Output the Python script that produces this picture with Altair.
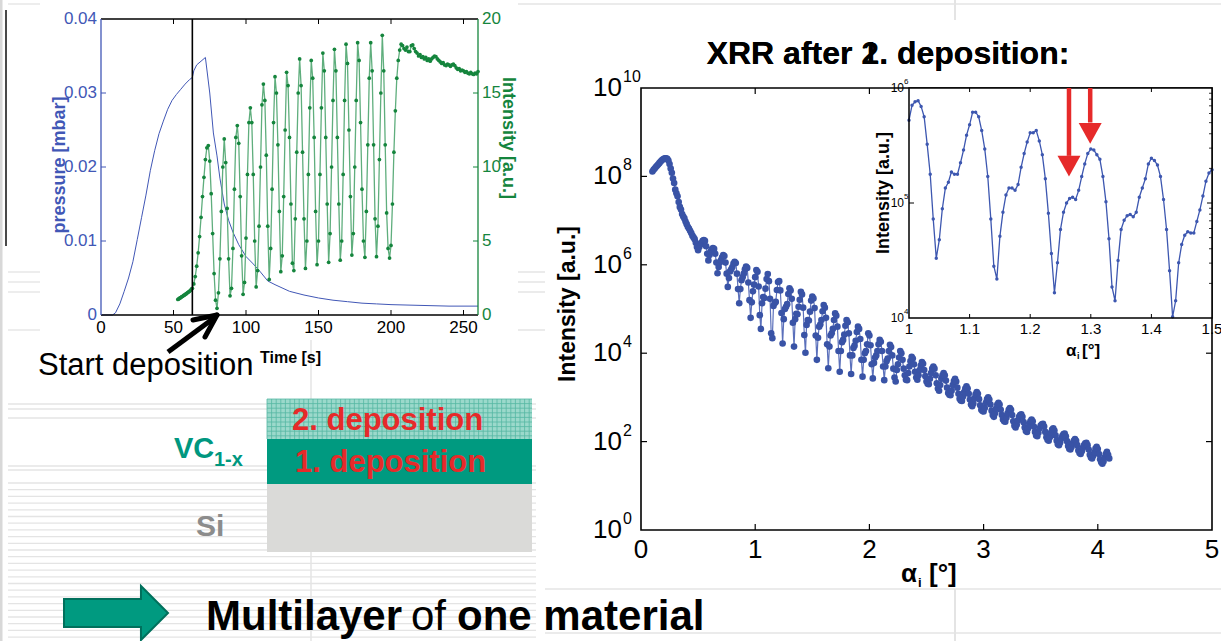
import altair as alt
import pandas as pd

FONT = "Liberation Sans"

# ---------------- data ----------------
# top-left: chamber pressure [mbar] vs time [s]
press_t = [0, 8, 10, 13, 16, 19, 22, 25, 28, 31, 34, 37, 40, 43, 46, 49, 52, 55, 58, 61, 63, 64, 66, 69, 72,
           75, 77.5, 80, 82, 85, 88, 91, 95, 100, 105, 110, 115, 120, 130, 140, 150, 160, 170, 180, 190, 200,
           220, 240, 260]
press_v = [0, 0, 0.0003, 0.0015, 0.0032, 0.0050, 0.0072, 0.0102, 0.0132, 0.0162, 0.0195, 0.0222, 0.0245,
           0.0262, 0.0278, 0.0290, 0.0298, 0.0305, 0.0312, 0.0318, 0.0321, 0.0330, 0.0338, 0.0343, 0.0348,
           0.0300, 0.0246, 0.0215, 0.0185, 0.0150, 0.0128, 0.0112, 0.0095, 0.0079, 0.0069, 0.0058, 0.0046,
           0.0041, 0.0032, 0.0027, 0.0023, 0.0020, 0.0018, 0.0016, 0.0015, 0.0014, 0.0013, 0.0012, 0.0012]

# top-left: in-situ intensity [a.u.]; before deposition every 0.5 s from 53 s, then every 1 s from 63 s
green_pre = [1.05, 1.08, 1.12, 1.15, 1.18, 1.22, 1.25, 1.28, 1.32, 1.35,
             1.38, 1.42, 1.45, 1.50, 1.53, 1.57, 1.60, 1.65, 1.70, 1.76]
green_main = [1.8, 2.1, 2.6, 3.3, 4.2, 5.3, 6.6, 8.0, 9.3, 10.5,
              11.3, 11.45, 10.4, 8.2, 5.5, 2.8, 1.0, 0.45, 1.5, 3.8,
              7.0, 10.0, 11.9, 10.3, 7.2, 3.8, 1.3, 1.8, 4.5, 8.5,
              12.0, 12.8, 11.6, 8.0, 4.0, 1.4, 2.2, 5.2, 9.5, 13.0,
              14.0, 13.0, 9.5, 5.0, 1.9, 3.0, 6.0, 10.0, 14.2, 15.6,
              14.5, 10.8, 6.0, 2.4, 4.5, 8.5, 13.0, 16.1, 15.0, 11.5,
              7.0, 2.93, 4.0, 8.0, 12.5, 16.4, 15.5, 12.0, 7.5, 3.5,
              3.0, 6.5, 11.0, 15.0, 17.3, 15.5, 11.0, 6.5, 3.15, 5.0,
              9.5, 14.0, 17.2, 16.0, 12.0, 7.0, 3.4, 5.0, 9.5, 14.0,
              17.7, 16.5, 12.0, 7.5, 3.56, 5.5, 10.0, 14.5, 17.95, 16.5,
              12.0, 7.5, 3.7, 5.0, 9.5, 14.5, 18.3, 17.0, 12.5, 8.0,
              4.05, 5.5, 10.0, 14.5, 18.4, 17.2, 13.0, 8.5, 5.0, 3.9,
              7.0, 11.5, 16.0, 18.4, 16.5, 11.5, 6.5, 3.94, 6.0, 10.5,
              15.0, 18.9, 16.5, 11.5, 6.9, 4.5, 3.85, 4.7, 7.5, 11.0,
              13.8, 16.0, 17.2, 17.9, 18.3, 18.2, 18.0, 17.9, 18.1, 17.8,
              17.8, 18.2, 18.25, 18.0, 17.8, 17.7, 17.5, 17.6, 17.4, 17.45,
              17.3, 17.4, 17.2, 17.3, 17.15, 17.3, 17.4, 17.5, 17.45, 17.3,
              17.2, 17.1, 17.0, 17.05, 16.9, 16.85, 16.95, 16.9, 16.8, 16.9,
              16.95, 16.85, 16.7, 16.6, 16.65, 16.5, 16.55, 16.5, 16.4, 16.45,
              16.35, 16.3, 16.4, 16.3, 16.25, 16.35, 16.3, 16.45]
deposition_start = [63]

# right: XRR, log10(intensity) for alpha_i = 0.10 .. 4.10 every 0.01 deg
xrr_log = [8.11, 8.15, 8.18, 8.21, 8.24, 8.27, 8.30, 8.33, 8.36, 8.38,
           8.40, 8.41, 8.41, 8.40, 8.36, 8.28, 8.18, 8.08, 7.95, 7.85,
           7.70, 7.62, 7.55, 7.42, 7.31, 7.25, 7.15, 7.09, 7.05, 6.98,
           6.92, 6.86, 6.82, 6.77, 6.72, 6.66, 6.62, 6.58, 6.50, 6.40,
           6.33, 6.40, 6.46, 6.50, 6.54, 6.56, 6.54, 6.42, 6.25, 6.10,
           6.22, 6.30, 6.35, 6.38, 6.36, 6.25, 6.05, 5.81, 5.95, 6.05,
           6.10, 6.17, 6.22, 6.20, 6.05, 5.80, 5.50, 5.70, 5.85, 5.90,
           5.95, 6.03, 6.07, 6.04, 5.80, 5.45, 5.13, 5.45, 5.65, 5.72,
           5.80, 5.90, 5.96, 5.93, 5.60, 5.20, 4.80, 5.15, 5.40, 5.55,
           5.72, 5.88, 5.84, 5.51, 4.86, 4.55, 5.13, 5.27, 5.25, 5.46,
           5.68, 5.79, 5.63, 5.23, 4.45, 4.34, 5.07, 5.13, 5.16, 5.43,
           5.61, 5.63, 5.42, 4.91, 4.22, 4.77, 5.00, 5.05, 5.11, 5.34,
           5.47, 5.42, 5.23, 4.69, 4.15, 4.77, 4.89, 4.88, 5.05, 5.21,
           5.39, 5.33, 5.03, 4.41, 4.01, 4.64, 4.75, 4.74, 4.94, 5.19,
           5.28, 5.24, 5.02, 4.40, 3.85, 4.35, 4.60, 4.65, 4.75, 4.95,
           5.09, 5.03, 4.80, 4.20, 3.66, 4.15, 4.40, 4.45, 4.55, 4.75,
           4.90, 4.85, 4.60, 4.05, 3.58, 4.05, 4.25, 4.30, 4.42, 4.62,
           4.75, 4.70, 4.45, 3.95, 3.53, 3.95, 4.12, 4.17, 4.28, 4.48,
           4.60, 4.55, 4.32, 3.85, 3.47, 3.85, 4.00, 4.05, 4.20, 4.45,
           4.40, 4.18, 3.75, 3.43, 3.78, 3.90, 3.95, 4.05, 4.20, 4.30,
           4.26, 4.05, 3.70, 3.39, 3.70, 3.82, 3.88, 4.05, 4.19, 4.14,
           3.95, 3.65, 3.45, 3.36, 3.62, 3.75, 3.90, 4.05, 4.00, 3.85,
           3.65, 3.50, 3.40, 3.39, 3.55, 3.70, 3.82, 3.92, 3.88, 3.75,
           3.58, 3.45, 3.40, 3.50, 3.62, 3.72, 3.80, 3.76, 3.62, 3.48,
           3.36, 3.31, 3.30, 3.42, 3.55, 3.65, 3.70, 3.65, 3.50, 3.32,
           3.20, 3.15, 3.28, 3.42, 3.50, 3.55, 3.50, 3.38, 3.22, 3.10,
           3.06, 3.05, 3.15, 3.28, 3.37, 3.42, 3.36, 3.22, 3.08, 2.97,
           2.93, 2.92, 3.02, 3.12, 3.20, 3.25, 3.20, 3.08, 2.95, 2.84,
           2.80, 2.86, 2.98, 3.07, 3.12, 3.08, 2.96, 2.82, 2.72, 2.69,
           2.68, 2.76, 2.88, 2.96, 3.00, 2.95, 2.84, 2.70, 2.60, 2.56,
           2.64, 2.75, 2.84, 2.88, 2.84, 2.72, 2.60, 2.50, 2.46, 2.45,
           2.54, 2.64, 2.72, 2.76, 2.72, 2.60, 2.46, 2.36, 2.32, 2.38,
           2.48, 2.56, 2.60, 2.62, 2.56, 2.44, 2.32, 2.24, 2.22, 2.30,
           2.40, 2.46, 2.50, 2.46, 2.34, 2.22, 2.14, 2.12, 2.20, 2.30,
           2.36, 2.39, 2.40, 2.34, 2.22, 2.10, 2.04, 2.02, 2.10, 2.20,
           2.27, 2.30, 2.25, 2.14, 2.02, 1.94, 1.92, 1.98, 2.07, 2.13,
           2.17, 2.18, 2.12, 2.01, 1.90, 1.84, 1.82, 1.88, 1.96, 2.02,
           2.06, 2.02, 1.92, 1.80, 1.74, 1.72, 1.78, 1.86, 1.92, 1.96,
           1.97, 1.92, 1.82, 1.70, 1.64, 1.62, 1.68, 1.76, 1.84, 1.88,
           1.83, 1.72, 1.60, 1.53, 1.50, 1.55, 1.64, 1.72, 1.77, 1.70,
           1.62]

# inset: log10(intensity) for alpha_i = 1.000 .. 1.500 every 0.005 deg
inset_log = [5.72, 5.85, 5.88, 5.89, 5.84, 5.75, 5.51, 5.25, 4.86, 4.52,
             4.68, 4.95, 5.13, 5.18, 5.27, 5.25, 5.25, 5.35, 5.46, 5.59,
             5.68, 5.79, 5.79, 5.75, 5.63, 5.47, 5.23, 4.86, 4.45, 4.34,
             4.71, 4.92, 5.07, 5.13, 5.13, 5.11, 5.16, 5.31, 5.43, 5.53,
             5.61, 5.61, 5.63, 5.54, 5.42, 5.21, 4.91, 4.56, 4.22, 4.48,
             4.77, 4.92, 5.00, 5.04, 5.05, 5.03, 5.11, 5.23, 5.34, 5.43,
             5.47, 5.46, 5.42, 5.38, 5.23, 5.01, 4.69, 4.27, 4.15, 4.50,
             4.77, 4.85, 4.89, 4.90, 4.88, 4.92, 5.05, 5.13, 5.21, 5.34,
             5.39, 5.37, 5.33, 5.23, 5.03, 4.77, 4.41, 4.01, 4.15, 4.48,
             4.64, 4.72, 4.75, 4.74, 4.74, 4.84, 4.94, 5.06, 5.19, 5.26,
             5.29]

# red arrows in the inset: position, shaft end and head centre (log10 I)
arrow_alpha = [1.264, 1.299]
arrow_shaft_end = [5.41, 5.70]
arrow_head_mid = [5.32, 5.605]

# tick values and labels
tl_xticks = [0, 50, 100, 150, 200, 250]
tl_pticks = [0, 0.01, 0.02, 0.03, 0.04]
tl_plabels = ["0", "0.01", "0.02", "0.03", "0.04"]
tl_iticks = [0, 5, 10, 15, 20]
xrr_xticks = [0, 1, 2, 3, 4, 5]
xrr_yexp = [0, 2, 4, 6, 8, 10]
inset_xticks = [1.0, 1.1, 1.2, 1.3, 1.4, 1.5]
inset_xlabels = ["1", "1.1", "1.2", "1.3", "1.4", "1.5"]
inset_yexp = [4, 5, 6]

# ---------------- tables ----------------
df_p = pd.DataFrame({"t": press_t, "v": press_v})
g_t = [53 + 0.5 * i for i in range(len(green_pre))] + [63 + i for i in range(len(green_main))]
df_g = pd.DataFrame({"t": g_t, "v": green_pre + green_main})
df_x = pd.DataFrame({"a": [round(0.10 + 0.01 * i, 3) for i in range(len(xrr_log))],
                     "I": [10 ** v for v in xrr_log]})
df_i = pd.DataFrame({"a": [round(1.0 + 0.005 * i, 4) for i in range(len(inset_log))],
                     "I": [10 ** v for v in inset_log]})

# ---------------- layout (pixels) ----------------
TLX0, TLX1, TLY0, TLY1 = 101, 478, 19, 315
MBX0, MBX1, MBY0, MBY1 = 641, 1212, 88, 530
INX0, INX1, INY0, INY1 = 909, 1212, 88, 318

PBLUE = "#4157b6"
GREEN = "#15853d"
GLINE = "#5fae7d"
XBLUE = "#3953a6"
RED = "#e62a2a"
TEAL = "#009a80"
BGL = "#e4e4e4"

ONE = pd.DataFrame({"k": [0]})
layers = []


def add(c):
    layers.append(c)


def lin(field, dom, rng, ch):
    s = alt.Scale(domain=dom, range=rng, nice=False, zero=False)
    return (alt.X if ch == "x" else alt.Y)(f"{field}:Q", scale=s, axis=None)


def logs(field, dom, rng, ch):
    s = alt.Scale(type="log", domain=dom, range=rng, nice=False)
    return (alt.X if ch == "x" else alt.Y)(f"{field}:Q", scale=s, axis=None)


def tx(f="t"):
    return lin(f, [0, 260], [TLX0, TLX1], "x")


def tp(f="v"):
    return lin(f, [0, 0.04], [TLY1, TLY0], "y")


def tg(f="v"):
    return lin(f, [0, 20], [TLY1, TLY0], "y")


def mx(f="a"):
    return lin(f, [0, 5], [MBX0, MBX1], "x")


def my(f="I"):
    return logs(f, [1, 1e10], [MBY1, MBY0], "y")


def ix(f="a"):
    return lin(f, [1, 1.5], [INX0, INX1], "x")


def iy(f="I"):
    return logs(f, [1e4, 1e6], [INY1, INY0], "y")


def text(s, x, y, size, color="#000000", weight="normal", align="left", baseline="alphabetic", angle=0):
    add(alt.Chart(ONE).mark_text(text=s, font=FONT, fontSize=size, fontWeight=weight, color=color,
                                 align=align, baseline=baseline, angle=angle)
        .encode(x=alt.value(x), y=alt.value(y)))


def seg(x1, y1, x2, y2, color, width=1.0, cap="butt"):
    add(alt.Chart(ONE).mark_rule(color=color, strokeWidth=width, strokeCap=cap)
        .encode(x=alt.value(x1), y=alt.value(y1), x2=alt.value(x2), y2=alt.value(y2)))


def box(x1, y1, x2, y2, fill=None, stroke=None, width=1.0):
    kw = {}
    if fill is not None:
        kw["fill"] = fill
    else:
        kw["fillOpacity"] = 0
    if stroke is not None:
        kw["stroke"] = stroke
        kw["strokeWidth"] = width
    else:
        kw["strokeWidth"] = 0
    add(alt.Chart(ONE).mark_rect(**kw)
        .encode(x=alt.value(x1), y=alt.value(y1), x2=alt.value(x2), y2=alt.value(y2)))


# ---------------- slide background texture ----------------
seg(1, 0, 1, 641, "#d8d8d8", 3)
bg_rows = [404, 409, 418, 466, 470] + [round(483 + 6.7 * i, 1) for i in range(24)]
for yy in bg_rows:
    seg(8, yy, 536, yy, BGL, 1.3)
for yy in [4, 272, 282, 292, 330]:
    seg(8, yy, 40, yy, BGL, 1.3)
    seg(505, yy, 545, yy, BGL, 1.3)
seg(311, 338, 311, 641, BGL, 1.5)
seg(545, 4, 1221, 4, BGL, 1.5)
seg(545, 589, 1221, 589, BGL, 1.5)
seg(545, 633, 1221, 633, BGL, 1.5)
seg(955, 0, 955, 20, BGL, 2)
seg(955, 589, 955, 641, BGL, 2)
seg(6, 10, 6, 246, "#4a4a4a", 2)

# ---------------- top-left: pressure & intensity vs time ----------------
box(TLX0 - 60, 0, TLX1 + 40, 340, fill="white")
add(alt.Chart(df_p).mark_line(color=PBLUE, strokeWidth=1).encode(x=tx(), y=tp()))
add(alt.Chart(df_g).mark_line(color=GLINE, strokeWidth=1.3).encode(x=tx(), y=tg()))
add(alt.Chart(df_g).mark_circle(color=GREEN, size=14, opacity=1).encode(x=tx(), y=tg()))
add(alt.Chart(pd.DataFrame({"t": deposition_start})).mark_rule(color="black", strokeWidth=1.6)
    .encode(x=tx(), y=alt.value(TLY0), y2=alt.value(TLY1)))
# frame
seg(TLX0, TLY0, TLX1, TLY0, "black", 1.3)
seg(TLX0, TLY1, TLX1, TLY1, "black", 1.3)
seg(TLX0, TLY0, TLX0, TLY1, PBLUE, 1.3)
seg(TLX1, TLY0, TLX1, TLY1, GREEN, 1.3)
df_tlx = pd.DataFrame({"t": tl_xticks, "lab": [str(v) for v in tl_xticks]})
add(alt.Chart(df_tlx.iloc[1:]).mark_rule(color="black", strokeWidth=1)
    .encode(x=tx(), y=alt.value(TLY1), y2=alt.value(TLY1 - 5)))
add(alt.Chart(df_tlx.iloc[1:]).mark_rule(color="black", strokeWidth=1)
    .encode(x=tx(), y=alt.value(TLY0), y2=alt.value(TLY0 + 5)))
add(alt.Chart(df_tlx).mark_text(font=FONT, fontSize=17, align="center", baseline="middle", color="black")
    .encode(x=tx(), y=alt.value(328), text="lab:N"))
df_tlp = pd.DataFrame({"v": tl_pticks, "lab": tl_plabels})
add(alt.Chart(df_tlp.iloc[1:4]).mark_rule(color=PBLUE, strokeWidth=1)
    .encode(y=tp(), x=alt.value(TLX0), x2=alt.value(TLX0 + 5)))
add(alt.Chart(df_tlp).mark_text(font=FONT, fontSize=17, align="right", baseline="middle", color=PBLUE)
    .encode(y=tp(), x=alt.value(97), text="lab:N"))
df_tli = pd.DataFrame({"v": tl_iticks, "lab": [str(v) for v in tl_iticks]})
add(alt.Chart(df_tli.iloc[1:4]).mark_rule(color=GREEN, strokeWidth=1)
    .encode(y=tg(), x=alt.value(TLX1), x2=alt.value(TLX1 - 5)))
add(alt.Chart(df_tli).mark_text(font=FONT, fontSize=17, align="left", baseline="middle", color=GREEN)
    .encode(y=tg(), x=alt.value(482), text="lab:N"))
text("pressure [mbar]", 60, 165, 18, PBLUE, "bold", "center", "middle", 270)
text("Intensity [a.u.]", 508, 138, 18, GREEN, "bold", "center", "middle", 90)
text("Time [s]", 260, 363, 16, "black", "bold")
text("Start deposition", 38, 375, 31, "black")
# black arrow
seg(168, 352, 214, 318, "black", 5)
seg(217, 315, 193, 320, "black", 5, "round")
seg(217, 315, 205, 337, "black", 5, "round")

# ---------------- layer stack ----------------
box(267, 484, 532, 552, fill="#dadad8")
box(267, 439, 532, 484, fill=TEAL)
box(267, 399, 532, 439, fill="#9bd9cb")
gx = 267
while gx <= 532:
    seg(gx, 399, gx, 439, "#56b7a3", 0.8)
    gx += 4.6
gy = 399
while gy <= 439:
    seg(267, gy, 532, gy, "#56b7a3", 0.8)
    gy += 4.6
text("2. deposition", 292, 430, 31, RED, "bold")
text("1. deposition", 295, 472, 31, RED, "bold")
text("VC", 174, 458, 29, "#00977f", "bold")
text("1-x", 214, 466, 20, "#00977f", "bold")
text("Si", 196, 536, 30, "#8c8c8c", "bold")

# ---------------- bottom statement ----------------
add(alt.Chart(ONE).mark_point(shape="M-1,-0.27L0.48,-0.27L0.48,-0.52L1,0L0.48,0.52L0.48,0.27L-1,0.27Z",
                              size=10816, filled=True, fill=TEAL, stroke="#00705c", strokeWidth=2,
                              opacity=1)
    .encode(x=alt.value(116), y=alt.value(613)))
text("Multilayer", 206, 630, 42, "black", "bold")
text("of", 411, 630, 42, "black", "normal")
text("one material", 457, 630, 42, "black", "bold")

# ---------------- main XRR plot ----------------
add(alt.Chart(df_x).mark_line(color="#5b70bb", strokeWidth=1.2).encode(x=mx(), y=my()))
add(alt.Chart(df_x).mark_circle(color=XBLUE, size=44, opacity=1).encode(x=mx(), y=my()))
box(MBX0, MBY0, MBX1, MBY1, stroke="black", width=1.6)
df_mx = pd.DataFrame({"a": xrr_xticks, "lab": [str(v) for v in xrr_xticks]})
add(alt.Chart(df_mx.iloc[1:5]).mark_rule(color="black", strokeWidth=1.2)
    .encode(x=mx(), y=alt.value(MBY1), y2=alt.value(MBY1 - 6)))
add(alt.Chart(df_mx.iloc[1:5]).mark_rule(color="black", strokeWidth=1.2)
    .encode(x=mx(), y=alt.value(MBY0), y2=alt.value(MBY0 + 6)))
add(alt.Chart(df_mx).mark_text(font=FONT, fontSize=26, align="center", baseline="middle", color="black")
    .encode(x=mx(), y=alt.value(550), text="lab:N"))
df_my = pd.DataFrame({"I": [10.0 ** e for e in xrr_yexp], "lab": ["10"] * len(xrr_yexp),
                      "ex": [str(e) for e in xrr_yexp]})
add(alt.Chart(df_my.iloc[1:5]).mark_rule(color="black", strokeWidth=1.2)
    .encode(y=my(), x=alt.value(MBX0), x2=alt.value(MBX0 + 6)))
add(alt.Chart(df_my.iloc[1:5]).mark_rule(color="black", strokeWidth=1.2)
    .encode(y=my(), x=alt.value(MBX1), x2=alt.value(MBX1 - 6)))
add(alt.Chart(df_my).mark_text(font=FONT, fontSize=26, align="right", baseline="middle", color="black")
    .encode(y=my(), x=alt.value(622), text="lab:N"))
add(alt.Chart(df_my).mark_text(font=FONT, fontSize=16, align="left", baseline="middle", color="black", dy=-11)
    .encode(y=my(), x=alt.value(623), text="ex:N"))
text("Intensity [a.u.]", 568, 304, 23, "black", "bold", "center", "middle", 270)
text("α", 901, 582, 26, "black", "bold")
text("i", 918, 587, 13, "black", "bold")
text("[°]", 929, 582, 26, "black", "bold")
text("XRR after 1. deposition:", 888, 64, 32, "black", "bold", "center")
text("XRR after 2. deposition:", 888, 64, 32, "black", "bold", "center")

# ---------------- inset ----------------
box(INX0, INY0, INX1, INY1, fill="white")
add(alt.Chart(df_i).mark_line(color="#3d57b0", strokeWidth=1.3).encode(x=ix(), y=iy()))
add(alt.Chart(df_i).mark_circle(color="#3d57b0", size=12, opacity=1).encode(x=ix(), y=iy()))
box(INX0, INY0, INX1, INY1, stroke="black", width=1.5)
df_ix = pd.DataFrame({"a": inset_xticks, "lab": inset_xlabels})
add(alt.Chart(df_ix.iloc[1:5]).mark_rule(color="black", strokeWidth=1)
    .encode(x=ix(), y=alt.value(INY1), y2=alt.value(INY1 - 4)))
add(alt.Chart(df_ix.iloc[1:5]).mark_rule(color="black", strokeWidth=1)
    .encode(x=ix(), y=alt.value(INY0), y2=alt.value(INY0 + 4)))
add(alt.Chart(df_ix).mark_text(font=FONT, fontSize=15, align="center", baseline="middle", color="black")
    .encode(x=ix(), y=alt.value(329), text="lab:N"))
df_iy = pd.DataFrame({"I": [10.0 ** e for e in inset_yexp], "lab": ["10"] * len(inset_yexp),
                      "ex": [str(e) for e in inset_yexp]})
add(alt.Chart(df_iy.iloc[1:2]).mark_rule(color="black", strokeWidth=1)
    .encode(y=iy(), x=alt.value(INX0), x2=alt.value(INX0 + 5)))
add(alt.Chart(df_iy.iloc[1:2]).mark_rule(color="black", strokeWidth=1)
    .encode(y=iy(), x=alt.value(INX1), x2=alt.value(INX1 - 5)))
df_minor = pd.DataFrame({"I": [k * 10.0 ** e for e in (4, 5) for k in range(2, 10)]})
add(alt.Chart(df_minor).mark_rule(color="black", strokeWidth=0.8)
    .encode(y=iy(), x=alt.value(INX1), x2=alt.value(INX1 - 3)))
add(alt.Chart(df_iy).mark_text(font=FONT, fontSize=12, align="right", baseline="middle", color="black")
    .encode(y=iy(), x=alt.value(904), text="lab:N"))
add(alt.Chart(df_iy).mark_text(font=FONT, fontSize=8, align="left", baseline="middle", color="black", dy=-6)
    .encode(y=iy(), x=alt.value(904), text="ex:N"))
text("Intensity [a.u.]", 884, 193, 18, "black", "bold", "center", "middle", 270)
text("α", 1066, 356, 17, "black", "bold")
text("i", 1077, 359, 9, "black", "bold")
text("[°]", 1082, 356, 17, "black", "bold")
df_arr = pd.DataFrame({"a": arrow_alpha, "top": [1e6, 1e6],
                       "end": [10 ** v for v in arrow_shaft_end],
                       "head": [10 ** v for v in arrow_head_mid]})
add(alt.Chart(df_arr).mark_rule(color=RED, strokeWidth=4.5)
    .encode(x=ix(), y=iy("top"), y2="end:Q"))
add(alt.Chart(df_arr).mark_point(shape="M-1,-0.9L1,-0.9L0,0.9Z", size=529, filled=True, fill=RED,
                                 strokeWidth=0, opacity=1)
    .encode(x=ix(), y=iy("head")))

chart = (alt.layer(*layers)
         .resolve_scale(x="independent", y="independent")
         .properties(width=1221, height=641, padding=0, background="white",
                     autosize=alt.AutoSizeParams(type="none"))
         .configure_view(strokeWidth=0))

chart.save("out.html", embed_options={"renderer": "svg", "actions": False})
